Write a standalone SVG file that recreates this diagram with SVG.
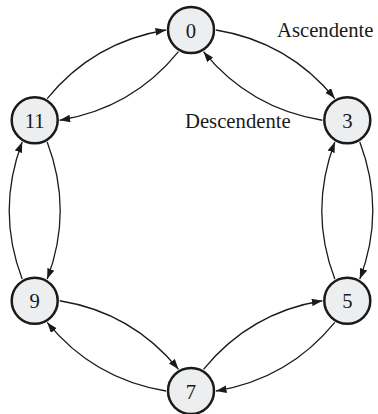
<svg xmlns="http://www.w3.org/2000/svg" width="378" height="414" viewBox="0 0 378 414">
<style>
.node circle{fill:#eceef0;stroke:#1a1a1a;stroke-width:2.5}
.node text,.lbl{font-family:"Liberation Serif","Times New Roman",serif;font-size:20.7px;fill:#1a1a1a}
.node text{text-anchor:middle}
.edge{fill:none;stroke:#1a1a1a;stroke-width:1.3;marker-end:url(#ah)}
</style>
<defs>
<marker id="ah" markerUnits="userSpaceOnUse" markerWidth="11" markerHeight="8" refX="10.5" refY="3.75" orient="auto">
<path d="M0,0 L10.5,3.75 L0,7.5 z" fill="#1a1a1a"/>
</marker>
</defs>
<rect width="378" height="414" fill="#ffffff"/>
<g id="connectors">
<path class="edge" d="M216,30 Q288.4,41.8 334.8,98.6"/>
<path class="edge" d="M322.3,120.25 Q249.9,108.5 203.5,51.65"/>
<path class="edge" d="M216,30 Q288.4,41.8 334.8,98.6" transform="rotate(60 191 210.5)"/>
<path class="edge" d="M322.3,120.25 Q249.9,108.5 203.5,51.65" transform="rotate(60 191 210.5)"/>
<path class="edge" d="M216,30 Q288.4,41.8 334.8,98.6" transform="rotate(120 191 210.5)"/>
<path class="edge" d="M322.3,120.25 Q249.9,108.5 203.5,51.65" transform="rotate(120 191 210.5)"/>
<path class="edge" d="M216,30 Q288.4,41.8 334.8,98.6" transform="rotate(180 191 210.5)"/>
<path class="edge" d="M322.3,120.25 Q249.9,108.5 203.5,51.65" transform="rotate(180 191 210.5)"/>
<path class="edge" d="M216,30 Q288.4,41.8 334.8,98.6" transform="rotate(240 191 210.5)"/>
<path class="edge" d="M322.3,120.25 Q249.9,108.5 203.5,51.65" transform="rotate(240 191 210.5)"/>
<path class="edge" d="M216,30 Q288.4,41.8 334.8,98.6" transform="rotate(300 191 210.5)"/>
<path class="edge" d="M322.3,120.25 Q249.9,108.5 203.5,51.65" transform="rotate(300 191 210.5)"/>
</g>
<g id="node0" class="node"><circle cx="191" cy="30" r="23"/><text x="191" y="37.5">0</text></g>
<g id="node3" class="node"><circle cx="347.3" cy="120.25" r="23"/><text x="347.3" y="127.75">3</text></g>
<g id="node5" class="node"><circle cx="347.3" cy="300.75" r="23"/><text x="347.3" y="308.25">5</text></g>
<g id="node7" class="node"><circle cx="191" cy="391" r="23"/><text x="191" y="398.5">7</text></g>
<g id="node9" class="node"><circle cx="34.7" cy="300.75" r="23"/><text x="34.7" y="308.25">9</text></g>
<g id="node11" class="node"><circle cx="34.7" cy="120.25" r="23"/><text x="34.7" y="127.75">11</text></g>
<text class="lbl" x="277" y="37">Ascendente</text>
<text class="lbl" x="185" y="128">Descendente</text>
</svg>
